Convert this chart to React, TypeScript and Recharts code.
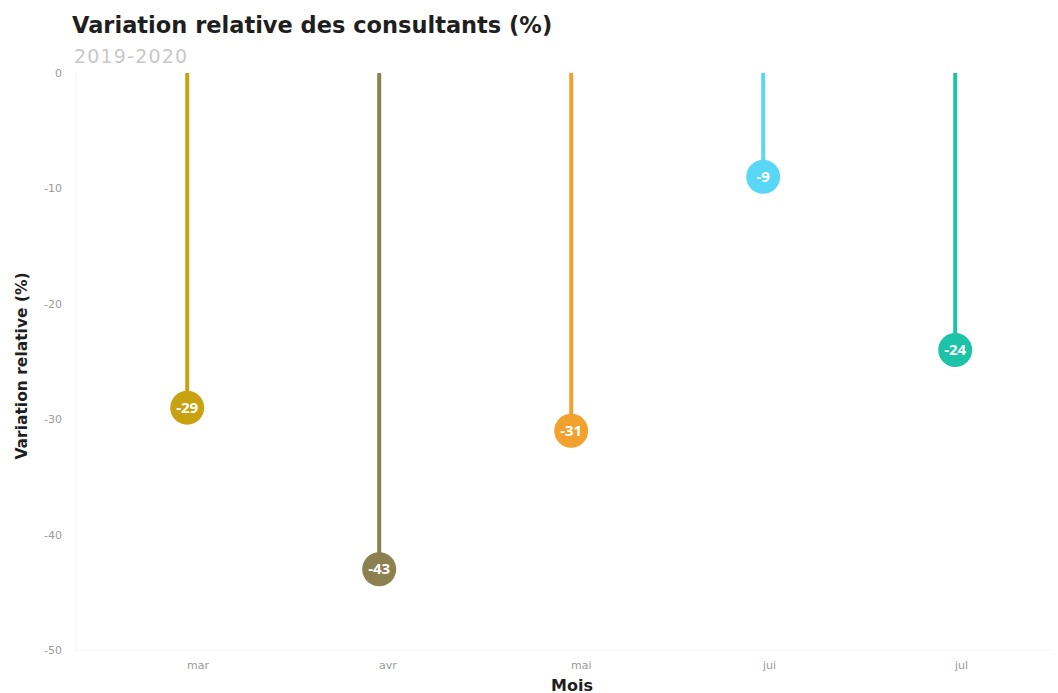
import React from 'react';
import { BarChart, Bar, XAxis, YAxis } from 'recharts';

const months = ['mar', 'avr', 'mai', 'jui', 'jul'];
const variations = [-29, -43, -31, -9, -24];
const colors = ['#C9A212', '#8B804F', '#F2A02E', '#58D8F6', '#1CC3A6'];
const yTicks = [0, -10, -20, -30, -40, -50];

const data = months.map((month, i) => ({ month, value: variations[i], color: colors[i] }));

const FONT = '"Noto Sans", "Open Sans", sans-serif';
const WIDE = '"DejaVu Sans", "Noto Sans", sans-serif';

const Lollipop = (props: any) => {
  const { x, y, width, height, payload } = props;
  const cx = x + width / 2;
  const top = Math.min(y, y + height);
  const bottom = Math.max(y, y + height);
  return (
    <g>
      <line x1={cx} x2={cx} y1={top} y2={bottom} stroke={payload.color} strokeWidth={4} />
      <circle cx={cx} cy={bottom} r={17} fill={payload.color} />
      <text
        x={cx}
        y={bottom}
        dy="0.35em"
        textAnchor="middle"
        fill="#fff"
        fontSize={15}
        fontWeight={700}
        fontFamily={FONT}
      >
        {payload.value}
      </text>
    </g>
  );
};

const MonthTick = (props: any) => {
  const { x, y, payload } = props;
  return (
    <text x={x} y={y} dy="0.71em" textAnchor="start" fill="#9a9a9a" fontSize={11} fontFamily={WIDE}>
      {payload.value}
    </text>
  );
};

const App: React.FC = () => {
  return (
    <div style={{ position: 'absolute', left: 0, top: 0, width: 1058, height: 693, background: '#fff', fontFamily: FONT }}>
      <div style={{ position: 'absolute', left: 72, top: 11, fontSize: 22.5, fontWeight: 700, fontFamily: WIDE, color: '#1f1f1f', lineHeight: '28px', whiteSpace: 'nowrap' }}>
        Variation relative des consultants (%)
      </div>
      <div style={{ position: 'absolute', left: 74, top: 42, fontSize: 19, fontFamily: WIDE, letterSpacing: 1.2, color: '#c8c8c8', lineHeight: '28px', whiteSpace: 'nowrap' }}>
        2019-2020
      </div>
      <div
        style={{
          position: 'absolute',
          left: 22,
          top: 366,
          transform: 'translate(-50%, -50%) rotate(-90deg)',
          fontSize: 15.5,
          fontWeight: 700,
          fontFamily: WIDE,
          color: '#1f1f1f',
          whiteSpace: 'nowrap',
        }}
      >
        Variation relative (%)
      </div>
      <div
        style={{
          position: 'absolute',
          left: 572,
          top: 685,
          transform: 'translate(-50%, -50%)',
          fontSize: 16,
          fontWeight: 700,
          fontFamily: WIDE,
          color: '#1f1f1f',
          whiteSpace: 'nowrap',
        }}
      >
        Mois
      </div>
      <div style={{ position: 'absolute', left: 0, top: 0 }}>
        <BarChart width={1058} height={693} data={data} margin={{ top: 73, right: 7, bottom: 13, left: 36 }}>
          <XAxis
            dataKey="month"
            tick={<MonthTick />}
            tickLine={false}
            axisLine={{ stroke: '#f3f3f3' }}
            tickMargin={5}
            height={30}
            padding={{ left: 15, right: 0 }}
          />
          <YAxis
            type="number"
            domain={[-50, 0]}
            ticks={yTicks}
            width={40}
            tickLine={false}
            axisLine={{ stroke: '#f3f3f3' }}
            tickMargin={8}
            tick={{ fill: '#9a9a9a', fontSize: 11, fontFamily: WIDE }}
          />
          <Bar dataKey="value" shape={<Lollipop />} isAnimationActive={false} />
        </BarChart>
      </div>
    </div>
  );
};

export default App;
